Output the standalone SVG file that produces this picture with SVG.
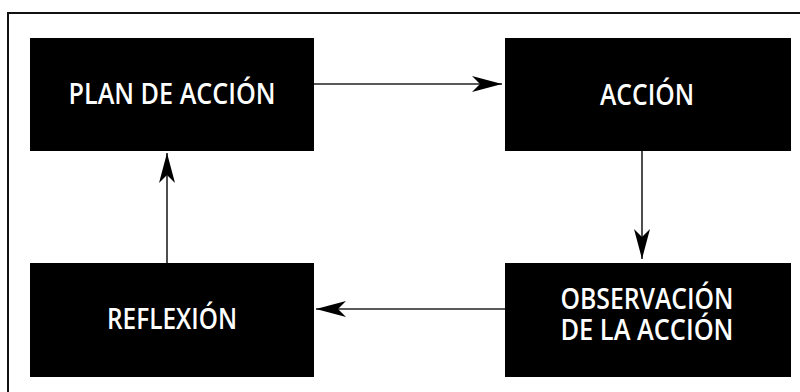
<svg xmlns="http://www.w3.org/2000/svg" width="800" height="392" viewBox="0 0 800 392">
  <style>
    .box { fill: #000; }
    .lbl { fill: #fff; font-family: "Open Sans", "Liberation Sans", sans-serif; font-weight: 600; font-size: 28px; text-anchor: middle; }
    .conn { stroke: #222; stroke-width: 1.6; fill: none; }
    .frame { stroke: #111; stroke-width: 2; fill: none; }
  </style>
  <defs>
    <marker id="arrow" markerUnits="userSpaceOnUse" markerWidth="30" markerHeight="16" viewBox="0 0 30 16" refX="30" refY="8" orient="auto">
      <path d="M0,0 L30,8 L0,16 L8,8 z" fill="#000"/>
    </marker>
  </defs>
  <rect width="800" height="392" fill="#fff"/>
  <path class="frame" d="M8,392 V13 H800"/>
  <g id="plan">
    <rect class="box" x="30" y="38" width="284" height="113"/>
    <text class="lbl" x="172" y="104" textLength="207" lengthAdjust="spacingAndGlyphs">PLAN DE ACCIÓN</text>
  </g>
  <g id="accion">
    <rect class="box" x="505" y="38" width="286" height="113"/>
    <text class="lbl" x="647" y="105" textLength="94" lengthAdjust="spacingAndGlyphs">ACCIÓN</text>
  </g>
  <g id="reflexion">
    <rect class="box" x="30" y="263" width="284" height="114"/>
    <text class="lbl" x="172" y="329" textLength="130" lengthAdjust="spacingAndGlyphs">REFLEXIÓN</text>
  </g>
  <g id="observacion">
    <rect class="box" x="505" y="263" width="286" height="114"/>
    <text class="lbl"><tspan x="647" y="309" textLength="173" lengthAdjust="spacingAndGlyphs">OBSERVACIÓN</tspan><tspan x="647" y="340" textLength="173" lengthAdjust="spacingAndGlyphs">DE LA ACCIÓN</tspan></text>
  </g>
  <g id="connectors">
    <line class="conn" x1="314" y1="84" x2="502" y2="84" marker-end="url(#arrow)"/>
    <line class="conn" x1="642" y1="151" x2="642" y2="259" marker-end="url(#arrow)"/>
    <line class="conn" x1="505" y1="309" x2="316" y2="309" marker-end="url(#arrow)"/>
    <line class="conn" x1="167" y1="263" x2="167" y2="153" marker-end="url(#arrow)"/>
  </g>
</svg>
